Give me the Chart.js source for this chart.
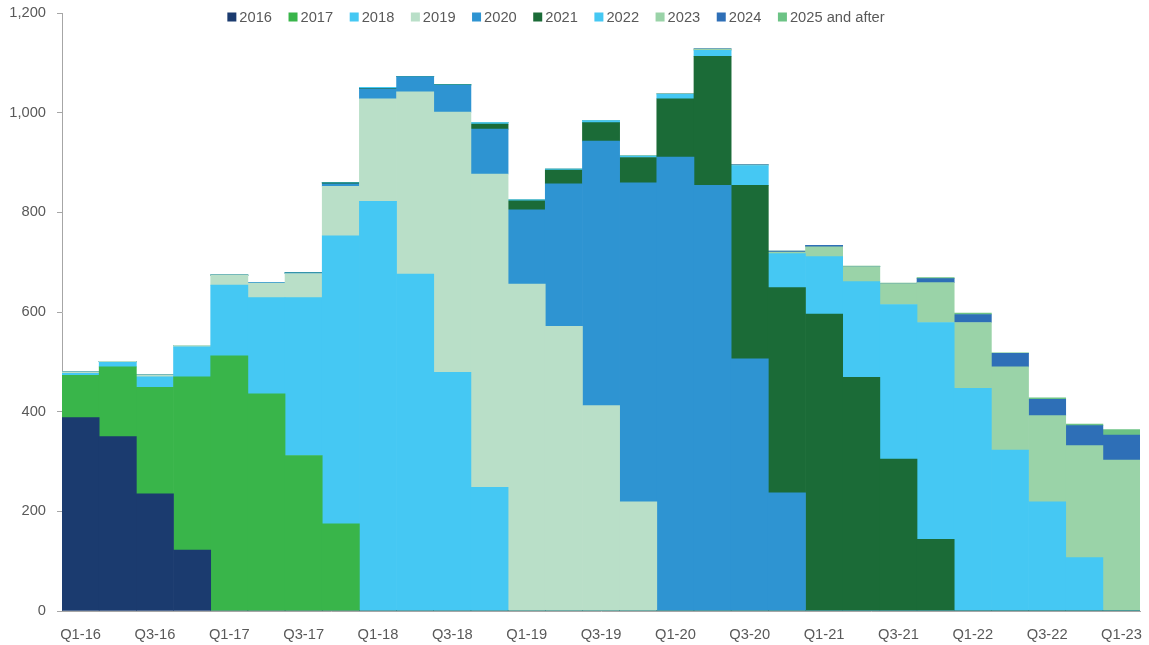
<!DOCTYPE html>
<html>
<head>
<meta charset="utf-8">
<script src="https://cdn.jsdelivr.net/npm/chart.js@4.4.1/dist/chart.umd.min.js"></script>
<style>
  html, body { margin: 0; padding: 0; background: #ffffff; }
  #wrap { width: 1149px; height: 645px; }
</style>
</head>
<body>
<div id="wrap"><canvas id="chart" width="1149" height="645"></canvas></div>
<script>
// Quarter labels along the x axis
const quarters = ['Q1-16','Q2-16','Q3-16','Q4-16','Q1-17','Q2-17','Q3-17','Q4-17',
  'Q1-18','Q2-18','Q3-18','Q4-18','Q1-19','Q2-19','Q3-19','Q4-19',
  'Q1-20','Q2-20','Q3-20','Q4-20','Q1-21','Q2-21','Q3-21','Q4-21',
  'Q1-22','Q2-22','Q3-22','Q4-22','Q1-23'];

// Stacked amounts per maturity year, one value per quarter
const y2016 = [388,350,235,122,0,0,0,0,0,0,0,0,0,0,0,0,0,0,0,0,0,0,0,0,0,0,0,0,0];
const y2017 = [85,140,214,348,512,436,312,175,0,0,0,0,0,0,0,0,0,0,0,0,0,0,0,0,0,0,0,0,0];
const y2018 = [4,9,21,60,142,193,317,578,822,676,479,248,0,0,0,0,0,0,0,0,0,0,0,0,0,0,0,0,0];
const y2019 = [3,2,4,3,20,29,48,99,206,366,522,629,656,571,412,219,0,0,0,0,0,0,0,0,0,0,0,0,0];
const y2020 = [0,0,0,0,0,1.5,1.5,5,20,30,54,90,149,286,531,640,911,854,506,237,0,0,0,0,0,0,0,0,0];
const y2021 = [0,0,0,0,0,0,0,2,1,0,1,10,18,28,37,51,117,259,348,412,596,469,305,144,0,0,0,0,0];
const y2022 = [0,0,0,0,0,0,0,1,2,1,1,3,2,2,4,3,9,12,40,68,115,192,310,435,447,323,219,107,0];
const y2023 = [0,0,0,0,0,0,0,0,0,0,0,0,0,0,0,1,1,2,1,3,20,30,42,80,132,167,173,225,303];
const y2024 = [0,0,0,0,0,0,0,0,0,0,0,0,0,0,0,0,0,1,1,2,3,0,0,8,16,27,33,40,50];
const y2025 = [0,0,0,0,0,0,0,0,0,0,0,0,0,0,0,0,0,0,0,0,0,1,1,2,3,1,3,3,11];

// Y axis tick values
const yTicks = [0, 200, 400, 600, 800, 1000, 1200];

const seriesNames = ['2016','2017','2018','2019','2020','2021','2022','2023','2024','2025 and after'];
const seriesValues = [y2016, y2017, y2018, y2019, y2020, y2021, y2022, y2023, y2024, y2025];
const seriesColors = ['#1b3b6f','#39b54a','#45c8f3','#b9dfc8','#2e94d2','#1b6b37','#45c8f3','#9ad3a8','#2e6fb7','#6cc385'];

const FONT = 'Liberation Sans, Arial, sans-serif';
const TEXT = '#595959';
const AXIS = '#a6a6a6';

// Legend drawn across the top of the plot area
const topLegend = {
  id: 'topLegend',
  afterDraw(chart) {
    const ctx = chart.ctx;
    ctx.save();
    ctx.font = '14.7px ' + FONT;
    ctx.textBaseline = 'middle';
    const box = 9, gap = 3, spacing = 16.5;
    const widths = seriesNames.map(n => box + gap + ctx.measureText(n).width);
    const total = widths.reduce((a, b) => a + b, 0) + spacing * (widths.length - 1);
    let x = 556 - total / 2;
    const cy = 17;
    seriesNames.forEach((name, i) => {
      ctx.fillStyle = seriesColors[i];
      ctx.fillRect(x, cy - box / 2, box, box);
      ctx.fillStyle = TEXT;
      ctx.textAlign = 'left';
      ctx.fillText(name, x + box + gap, cy + 0.5);
      x += widths[i] + spacing;
    });
    ctx.restore();
  }
};

new Chart(document.getElementById('chart'), {
  type: 'bar',
  data: {
    labels: quarters,
    datasets: seriesNames.map((name, i) => ({
      label: name,
      data: seriesValues[i],
      backgroundColor: seriesColors[i],
      borderWidth: 0,
      barPercentage: 1,
      categoryPercentage: 1
    }))
  },
  options: {
    responsive: false,
    animation: false,
    layout: { padding: { left: 0, right: 6, top: 13, bottom: 0 } },
    plugins: { legend: { display: false }, tooltip: { enabled: false } },
    scales: {
      x: {
        stacked: true,
        grid: { display: false },
        border: { display: true, color: AXIS, width: 1 },
        ticks: {
          autoSkip: false, maxRotation: 0, padding: 7, color: TEXT,
          font: { family: FONT, size: 14.7 },
          callback: (v, i) => (i % 2 === 0 ? quarters[i] : '')
        },
        afterFit: s => { s.height = 34; }
      },
      y: {
        stacked: true,
        min: 0, max: 1200,
        afterBuildTicks: s => { s.ticks = yTicks.map(v => ({ value: v })); },
        ticks: {
          padding: 11, color: TEXT,
          font: { family: FONT, size: 14.7 },
          callback: v => v.toLocaleString('en-US')
        },
        grid: { drawOnChartArea: false, drawTicks: true, tickLength: 5, color: AXIS },
        border: { display: true, color: AXIS, width: 1 },
        afterFit: s => { s.width = 62; s.paddingTop = 0; s.paddingBottom = 0; }
      }
    }
  },
  plugins: [topLegend]
});
</script>
</body>
</html>
